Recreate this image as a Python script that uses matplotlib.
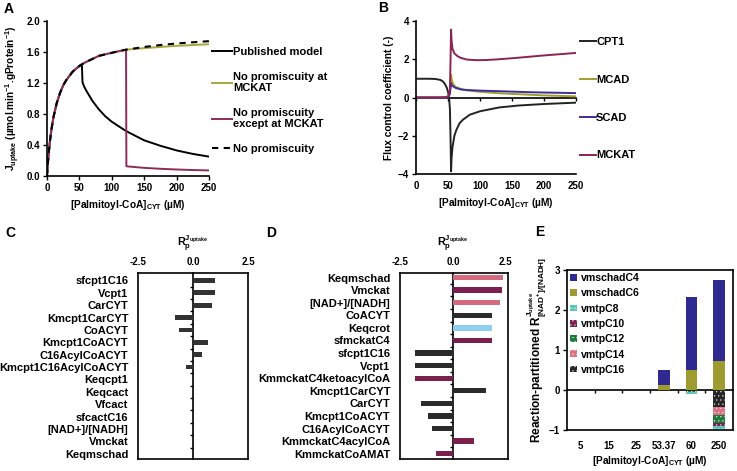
import matplotlib
matplotlib.use("Agg")
import matplotlib.pyplot as plt
import numpy as np

plt.rcParams['font.family'] = ['Liberation Sans', 'DejaVu Sans']
plt.rcParams['font.weight'] = 'bold'
plt.rcParams['axes.labelweight'] = 'bold'
plt.rcParams['mathtext.fontset'] = 'custom'
plt.rcParams['mathtext.rm'] = 'Liberation Sans:bold'
plt.rcParams['mathtext.it'] = 'Liberation Sans:bold'
plt.rcParams['mathtext.bf'] = 'Liberation Sans:bold'
plt.rcParams['mathtext.default'] = 'rm'
plt.rcParams['axes.linewidth'] = 1.2
plt.rcParams['hatch.linewidth'] = 0.3

# ---- panel A : J_uptake vs palmitoyl-CoA ----
a_x_rise = [0, 1, 2, 4, 6, 8, 10, 15, 20, 25, 30, 40, 50, 53.8]
a_y_rise = [0, 0.12, 0.23, 0.41, 0.55, 0.66, 0.76, 0.94, 1.07, 1.17, 1.24, 1.35, 1.42, 1.44]
a_x_pub = [54.8, 57, 60, 70, 80, 90, 100, 122, 150, 175, 200, 225, 250]
a_y_pub = [1.21, 1.16, 1.11, 0.97, 0.86, 0.77, 0.70, 0.58, 0.46, 0.39, 0.33, 0.285, 0.25]
a_x_mid = [60, 70, 80, 100, 122]
a_y_mid = [1.47, 1.51, 1.55, 1.59, 1.63]
a_x_tail = [150, 175, 200, 225, 250]
a_y_nopromisc = [1.665, 1.69, 1.71, 1.725, 1.74]
a_y_nomckat = [1.65, 1.665, 1.68, 1.69, 1.70]
a_x_except = [122.5, 150, 175, 200, 225, 250]
a_y_except = [0.125, 0.105, 0.093, 0.084, 0.077, 0.072]

# ---- panel B : flux control coefficients ----
b_x_cpt1 = [0, 20, 30, 38, 42, 45, 48, 50, 51.5, 53, 54, 54.8, 55.5, 57, 60, 63, 68, 73, 84, 100, 130, 160, 200, 250]
b_y_cpt1 = [0.98, 0.98, 0.97, 0.92, 0.84, 0.72, 0.52, 0.3, 0.05, -0.6, -2.2, -3.86, -3.2, -2.6, -2.0, -1.7, -1.35, -1.17, -0.9, -0.72, -0.52, -0.42, -0.34, -0.27]
b_x_mckat = [0, 40, 48, 51, 53, 54, 54.8, 55.5, 57, 60, 65, 70, 80, 95, 110, 130, 160, 200, 250]
b_y_mckat = [0, 0, 0.02, 0.1, 0.4, 2.0, 3.55, 3.0, 2.55, 2.3, 2.16, 2.07, 1.98, 1.95, 1.96, 2.0, 2.08, 2.2, 2.33]
b_x_acad = [0, 48, 51, 53, 54.8, 56, 58, 62, 70, 80, 100, 130, 175, 200, 250]
b_y_mcad = [0, 0, 0.05, 0.3, 1.2, 0.9, 0.7, 0.55, 0.45, 0.37, 0.3, 0.22, 0.15, 0.11, 0.06]
b_y_scad = [0, 0, 0.03, 0.2, 0.75, 0.65, 0.58, 0.5, 0.42, 0.39, 0.36, 0.33, 0.28, 0.26, 0.23]

# ---- panel C : response coefficients, published model ----
c_params = ['sfcpt1C16', 'Vcpt1', 'CarCYT', 'Kmcpt1CarCYT', 'CoACYT', 'Kmcpt1CoACYT',
            'C16AcylCoACYT', 'Kmcpt1C16AcylCoACYT', 'Keqcpt1', 'Keqcact', 'Vfcact',
            'sfcactC16', '[NAD+]/[NADH]', 'Vmckat', 'Keqmschad']
c_vals = [1.0, 1.0, 0.85, -0.8, -0.62, 0.66, 0.39, -0.31, 0, 0, 0, 0, 0, 0, 0]

# ---- panel D : response coefficients, overloaded state ----
d_params = ['Keqmschad', 'Vmckat', '[NAD+]/[NADH]', 'CoACYT', 'Keqcrot', 'sfmckatC4',
            'sfcpt1C16', 'Vcpt1', 'KmmckatC4ketoacylCoA', 'Kmcpt1CarCYT', 'CarCYT',
            'Kmcpt1CoACYT', 'C16AcylCoACYT', 'KmmckatC4acylCoA', 'KmmckatCoAMAT']
d_vals = [2.35, 2.33, 2.23, 1.86, 1.86, 1.86, -1.81, -1.81, -1.80, 1.55, -1.51,
          -1.16, -0.98, 0.98, -0.81]
d_group = ['mschad', 'mckat', 'mschad', 'cpt1', 'crot', 'mckat', 'cpt1', 'cpt1',
           'mckat', 'cpt1', 'cpt1', 'cpt1', 'cpt1', 'mckat', 'mckat']

# ---- panel E : reaction-partitioned response coefficient ----
e_conc = ['5', '15', '25', '53.37', '60', '250']
e_c4 = [0, 0, 0, 0.37, 1.83, 2.03]
e_c6 = [0, 0, 0, 0.12, 0.50, 0.72]
e_c8 = [0, 0, 0, 0, -0.05, -0.08]
e_c10 = [0, 0, 0, 0, -0.01, -0.06]
e_c12 = [0, 0, 0, 0, -0.01, -0.20]
e_c14 = [0, 0, 0, 0, -0.01, -0.21]
e_c16 = [0, 0, 0, 0, -0.02, -0.42]

W, H = 737, 471
fig = plt.figure(figsize=(W / 100, H / 100), dpi=100)


def px_axes(l, t, r, b):
    return fig.add_axes([l / W, (H - b) / H, (r - l) / W, (b - t) / H])


FS = 7
LBL = 7.3
conc_label = '[Palmitoyl-CoA]$_{CYT}$ (µM)'

# ================= A =================
axA = px_axes(47, 21, 209, 176)
rise_mid_x = a_x_rise + a_x_mid
rise_mid_y = a_y_rise + a_y_mid
axA.plot(a_x_rise + a_x_pub, a_y_rise + a_y_pub, color='black', lw=1.4, label='Published model')
axA.plot(rise_mid_x + a_x_tail, rise_mid_y + a_y_nomckat, color='#a9a63c', lw=1.4,
         label='No promiscuity at\nMCKAT')
axA.plot(rise_mid_x + a_x_except, rise_mid_y + a_y_except, color='#8b2c5d', lw=1.4,
         label='No promiscuity\nexcept at MCKAT')
axA.plot(rise_mid_x + a_x_tail, rise_mid_y + a_y_nopromisc, color='black', lw=1.5,
         linestyle=(0, (3, 2.6)), label='No promiscuity')
axA.set_xlim(0, 250)
axA.set_ylim(0, 2.0)
axA.set_xticks(np.arange(0, 251, 50))
axA.set_yticks(np.arange(0, 2.01, 0.4))
axA.set_yticklabels(['%.1f' % v for v in np.arange(0, 2.01, 0.4)])
axA.spines['top'].set_visible(False)
axA.spines['right'].set_visible(False)
axA.tick_params(labelsize=FS, length=3, width=1.0, pad=2)
axA.set_xlabel(conc_label, fontsize=LBL, labelpad=4)
axA.set_ylabel('J$_{uptake}$ (µmol.min$^{-1}$.gProtein$^{-1}$)', fontsize=LBL, labelpad=3)
axA.legend(loc='upper left', bbox_to_anchor=(1.02, 0.83), frameon=False, fontsize=8,
           handlelength=1.8, handletextpad=0.1, labelspacing=1.3, borderpad=0,
           borderaxespad=0)

# ================= B =================
axB = px_axes(416, 21, 576, 174)
axB.plot(b_x_cpt1, b_y_cpt1, color='#222222', lw=1.4, label='CPT1')
axB.plot(b_x_acad, b_y_mcad, color='#a39d2c', lw=1.4, label='MCAD')
axB.plot(b_x_acad, b_y_scad, color='#3b2f9c', lw=1.4, label='SCAD')
axB.plot(b_x_mckat, b_y_mckat, color='#8b2355', lw=1.4, label='MCKAT')
axB.set_xlim(0, 250)
axB.set_ylim(-4, 4)
axB.set_xticks(np.arange(0, 251, 50))
axB.set_yticks([-4, -2, 0, 2, 4])
axB.spines['top'].set_visible(False)
axB.spines['right'].set_visible(False)
axB.tick_params(axis='x', labelsize=FS, length=0, pad=5)
axB.tick_params(axis='y', labelsize=FS, length=3, width=1.0, pad=2)
zeroB = axB.secondary_xaxis(0.5)
zeroB.set_alignment('bottom')
zeroB.set_xticks(np.arange(0, 251, 50))
zeroB.tick_params(labelbottom=False, length=2.5, width=1.0)
zeroB.spines['bottom'].set_linewidth(1.2)
axB.set_xlabel(conc_label, fontsize=LBL, labelpad=4)
axB.set_ylabel('Flux control coefficient (-)', fontsize=LBL, labelpad=3)
axB.legend(loc='upper left', bbox_to_anchor=(1.025, 0.895), frameon=False, fontsize=8,
           handlelength=1.4, handletextpad=0.05, labelspacing=2.5, borderpad=0,
           borderaxespad=0)


# ================= C & D =================
def response_panel(ax, params, vals, colors, xmax, top_pad, bar_h):
    n = len(params)
    ypos = np.arange(n)
    ax.barh(ypos, vals, height=bar_h, color=colors)
    ax.set_xlim(-2.5, xmax)
    ax.set_ylim(n - 1 + 0.42, -top_pad)
    ax.set_yticks(ypos)
    ax.set_yticklabels(params, fontsize=8)
    ax.tick_params(axis='y', length=0, pad=7)
    ax.xaxis.tick_top()
    ax.set_xticks([-2.5, 0, 2.5])
    ax.set_xticklabels(['-2.5', '0.0', '2.5'])
    ax.tick_params(axis='x', labelsize=FS, length=0, pad=4)
    zero = ax.secondary_yaxis(2.5 / (xmax + 2.5))
    zero.set_alignment('left')
    zero.set_yticks(ypos[:-1] + 0.5)
    zero.tick_params(labelleft=False, length=2.5, width=1.0)
    zero.spines['left'].set_linewidth(1.2)
    ax.text(0, 1.16, r'R$_{p}^{J_{uptake}}$', transform=ax.get_xaxis_transform(),
            ha='center', va='center', fontsize=7.8)


axC = px_axes(138, 273, 248, 459)
response_panel(axC, c_params, c_vals, '#333333', 2.5, 0.6, 0.38)

d_palette = {'cpt1': '#2b2b2b', 'mckat': '#7b1f4f', 'mschad': '#d56a7f', 'crot': '#8ecff0'}
axD = px_axes(400, 273, 508, 459)
response_panel(axD, d_params, d_vals, [d_palette[g] for g in d_group], 2.6, 0.36, 0.42)

# ================= E =================
axE = px_axes(567, 270, 733, 430)
xe = np.arange(len(e_conc))
bw = 0.43
hb = dict(edgecolor='white', linewidth=0, hatch='....')
h4 = axE.bar(xe, e_c4, bw, bottom=e_c6, color='#2f2a8f', label='vmschadC4')
h6 = axE.bar(xe, e_c6, bw, color='#9e9b30', label='vmschadC6')
neg = np.zeros(len(e_conc))
hn = {}
for name, vals, col in [('vmtpC16', e_c16, '#262626'), ('vmtpC14', e_c14, '#dd7285'),
                        ('vmtpC12', e_c12, '#1d7a3c'), ('vmtpC10', e_c10, '#7b1f4f'),
                        ('vmtpC8', e_c8, '#5cc6b8')]:
    hn[name] = axE.bar(xe, vals, bw, bottom=neg, color=col, label=name, **hb)
    neg = neg + np.array(vals)
axE.set_xlim(-0.5, len(e_conc) - 0.5)
axE.set_ylim(-1, 3)
axE.set_yticks([-1, 0, 1, 2, 3])
axE.set_xticks(xe)
axE.set_xticklabels(e_conc)
axE.tick_params(axis='x', labelsize=FS, length=0, pad=8)
axE.tick_params(axis='y', labelsize=FS, length=3, width=1.0, pad=2)
zeroE = axE.secondary_xaxis(0.25)
zeroE.set_alignment('bottom')
zeroE.set_xticks(xe[:-1] + 0.5)
zeroE.tick_params(labelbottom=False, length=2.5, width=1.0)
zeroE.spines['bottom'].set_linewidth(1.2)
axE.set_xlabel(conc_label, fontsize=LBL, labelpad=2)
axE.set_ylabel('Reaction-partitioned R$^{J_{uptake}}_{[NAD^{+}]/[NADH]}$', fontsize=8.5, labelpad=1)
axE.legend(handles=[h4, h6, hn['vmtpC8'], hn['vmtpC10'], hn['vmtpC12'], hn['vmtpC14'], hn['vmtpC16']],
           loc='upper left', frameon=False, fontsize=7.6, handlelength=0.6, handleheight=0.6,
           handletextpad=0.4, labelspacing=0.5, borderpad=0.2, borderaxespad=0.1)

# panel letters
for letter, (x, y) in {'A': (9, 9), 'B': (383, 8), 'C': (10, 233), 'D': (271, 233), 'E': (540, 232)}.items():
    fig.text(x / W, 1 - y / H, letter, fontsize=10, fontweight='bold', ha='center', va='center')

fig.savefig('out.png', dpi=100)
